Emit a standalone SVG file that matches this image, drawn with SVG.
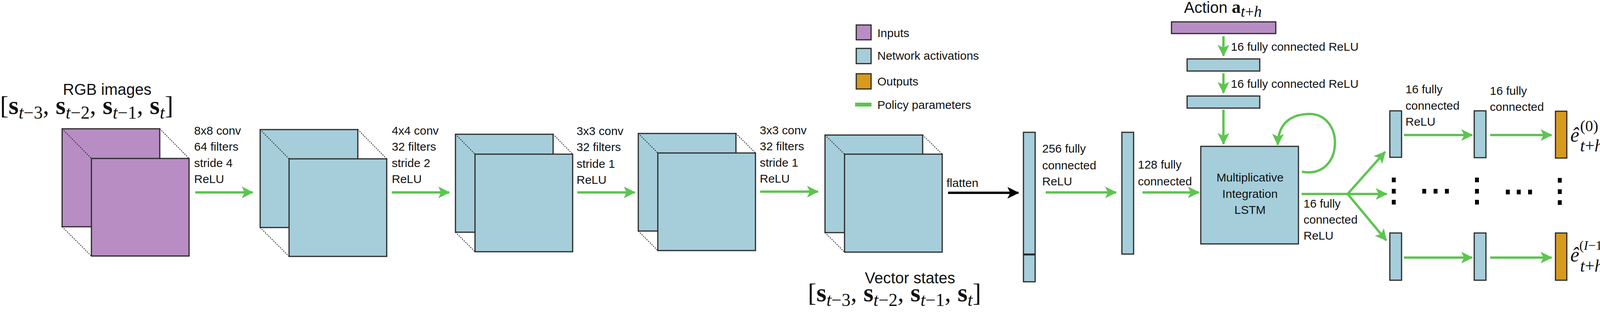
<svg xmlns="http://www.w3.org/2000/svg" width="4168" height="802" viewBox="0 0 4168 802">
<style>
.t{font-family:"Liberation Sans",Arial,sans-serif;font-size:30px;fill:#111}
.big{font-size:40px}
.m{font-family:"Liberation Serif","DejaVu Serif",serif;font-size:66px;fill:#111}
.e{font-family:"Liberation Serif","DejaVu Serif",serif;fill:#111}
.b{font-weight:bold}
.i{font-style:italic}
.s{font-size:46px}
.in{fill:#b88dc4;stroke:#2a2a2a;stroke-width:3}
.ac{fill:#a5ceda;stroke:#2a2a2a;stroke-width:3}
.out{fill:#d89a1b;stroke:#2a2a2a;stroke-width:3}
.dot{stroke:#222;stroke-width:2;stroke-dasharray:3 3;fill:none}
.g{stroke:#5ec451;stroke-width:6;fill:none}
.k{stroke:#000;stroke-width:6;fill:none}
</style>
<defs>
<marker id="ag" markerUnits="userSpaceOnUse" markerWidth="30" markerHeight="30" refX="28" refY="15" orient="auto"><path d="M0,0 L30,15 L0,30 L7,15 Z" fill="#5ec451"/></marker>
<marker id="ak" markerUnits="userSpaceOnUse" markerWidth="30" markerHeight="30" refX="28" refY="15" orient="auto"><path d="M0,0 L30,15 L0,30 L7,15 Z" fill="#000"/></marker>
</defs>

<g id="legend">
<rect class="in" x="2192" y="64" width="38" height="38"/><text class="t" x="2246" y="95">Inputs</text>
<rect class="ac" x="2192" y="124" width="38" height="39"/><text class="t" x="2246" y="153">Network activations</text>
<rect class="out" x="2192" y="189" width="38" height="39"/><text class="t" x="2246" y="219">Outputs</text>
<line x1="2189" y1="268" x2="2231" y2="268" stroke="#5ec451" stroke-width="10"/><text class="t" x="2246" y="279">Policy parameters</text>
</g>

<g id="rgb">
<text class="t big" x="161" y="243">RGB images</text>
<text class="m" x="0" y="292">[<tspan class="b">s</tspan><tspan class="i s" dy="12">t</tspan><tspan class="s">−3</tspan><tspan dy="-12">, </tspan><tspan class="b">s</tspan><tspan class="i s" dy="12">t</tspan><tspan class="s">−2</tspan><tspan dy="-12">, </tspan><tspan class="b">s</tspan><tspan class="i s" dy="12">t</tspan><tspan class="s">−1</tspan><tspan dy="-12">, </tspan><tspan class="b">s</tspan><tspan class="i s" dy="12">t</tspan><tspan dy="-12">]</tspan></text>
<rect class="in" x="159" y="330" width="250" height="251"/>
<rect class="in" x="234" y="406" width="250" height="250"/>
<path class="dot" d="M159,330 L234,406 M409,330 L484,406 M159,581 L234,656"/>
</g>
<g id="conv1">
<rect class="ac" x="666" y="332" width="250" height="251"/>
<rect class="ac" x="740" y="407" width="250" height="250"/>
<path class="dot" d="M666,332 L740,407 M916,332 L990,407 M666,583 L740,657"/>
</g>
<g id="conv2">
<rect class="ac" x="1166" y="344" width="250" height="251"/>
<rect class="ac" x="1216" y="395" width="250" height="250"/>
<path class="dot" d="M1166,344 L1216,395 M1416,344 L1466,395 M1166,595 L1216,645"/>
</g>
<g id="conv3">
<rect class="ac" x="1634" y="342" width="250" height="250"/>
<rect class="ac" x="1684" y="392" width="250" height="250"/>
<path class="dot" d="M1634,342 L1684,392 M1884,342 L1934,392 M1634,592 L1684,642"/>
</g>
<g id="conv4">
<rect class="ac" x="2112" y="346" width="250" height="250"/>
<rect class="ac" x="2162" y="395" width="250" height="251"/>
<path class="dot" d="M2112,346 L2162,395 M2362,346 L2412,395 M2112,596 L2162,646"/>
</g>

<g id="fc256">
<rect class="ac" x="2620" y="339" width="30" height="312"/>
<rect class="ac" x="2620" y="653" width="30" height="69"/>
</g>
<g id="vector">
<text class="t big" x="2214" y="726">Vector states</text>
<text class="m" x="2068" y="772">[<tspan class="b">s</tspan><tspan class="i s" dy="12">t</tspan><tspan class="s">−3</tspan><tspan dy="-12">, </tspan><tspan class="b">s</tspan><tspan class="i s" dy="12">t</tspan><tspan class="s">−2</tspan><tspan dy="-12">, </tspan><tspan class="b">s</tspan><tspan class="i s" dy="12">t</tspan><tspan class="s">−1</tspan><tspan dy="-12">, </tspan><tspan class="b">s</tspan><tspan class="i s" dy="12">t</tspan><tspan dy="-12">]</tspan></text>
</g>
<g id="fc128"><rect class="ac" x="2872" y="339" width="30" height="312"/></g>
<g id="lstm">
<rect class="ac" x="3074" y="375" width="250" height="250"/>
<text class="t" x="3200" y="465" text-anchor="middle">Multiplicative</text>
<text class="t" x="3200" y="507" text-anchor="middle">Integration</text>
<text class="t" x="3200" y="548" text-anchor="middle">LSTM</text>
</g>
<g id="action">
<text class="t big" x="3031" y="33">Action <tspan class="b" font-family="Liberation Serif,serif" font-size="46">a</tspan><tspan class="i" font-family="Liberation Serif,serif" font-size="40" dy="10">t</tspan><tspan font-family="Liberation Serif,serif" font-size="40">+</tspan><tspan class="i" font-family="Liberation Serif,serif" font-size="40">h</tspan></text>
<rect class="in" x="2999" y="56" width="267" height="30"/>
</g>
<g id="act1"><rect class="ac" x="3039" y="151" width="186" height="31"/></g>
<g id="act2"><rect class="ac" x="3039" y="246" width="186" height="31"/></g>

<g id="heads">
<rect class="ac" x="3558" y="284" width="30" height="119"/>
<rect class="ac" x="3774" y="284" width="30" height="120"/>
<rect class="out" x="3982" y="285" width="29" height="120"/>
<rect class="ac" x="3558" y="597" width="30" height="121"/>
<rect class="ac" x="3774" y="597" width="30" height="121"/>
<rect class="out" x="3982" y="597" width="29" height="121"/>
<g fill="#000">
<rect x="3563" y="455" width="10" height="12"/><rect x="3563" y="484" width="10" height="12"/><rect x="3563" y="512" width="10" height="12"/>
<rect x="3776" y="455" width="10" height="12"/><rect x="3776" y="484" width="10" height="12"/><rect x="3776" y="512" width="10" height="12"/>
<rect x="3988" y="456" width="10" height="12"/><rect x="3988" y="485" width="10" height="12"/><rect x="3988" y="513" width="10" height="12"/>
<rect x="3641" y="484" width="10" height="12"/><rect x="3670" y="484" width="10" height="12"/><rect x="3699" y="484" width="10" height="12"/>
<rect x="3855" y="486" width="10" height="12"/><rect x="3883" y="486" width="10" height="12"/><rect x="3912" y="486" width="10" height="12"/>
</g>
<text class="e i" x="4020" y="363" font-size="52">ê</text>
<text class="e" x="4045" y="336" font-size="40">(0)</text>
<text class="e" x="4045" y="388" font-size="44"><tspan class="i">t</tspan>+<tspan class="i">h</tspan></text>
<text class="e i" x="4020" y="670" font-size="52">ê</text>
<text class="e" x="4043" y="640" font-size="34">(<tspan class="i">I</tspan>−1)</text>
<text class="e" x="4045" y="696" font-size="44"><tspan class="i">t</tspan>+<tspan class="i">h</tspan></text>
</g>

<g id="labels">
<text class="t" x="497" y="345">8x8 conv</text><text class="t" x="497" y="386">64 filters</text><text class="t" x="497" y="428">stride 4</text><text class="t" x="497" y="469">ReLU</text>
<text class="t" x="1003" y="345">4x4 conv</text><text class="t" x="1003" y="386">32 filters</text><text class="t" x="1003" y="428">stride 2</text><text class="t" x="1003" y="469">ReLU</text>
<text class="t" x="1476" y="346">3x3 conv</text><text class="t" x="1476" y="387">32 filters</text><text class="t" x="1476" y="430">stride 1</text><text class="t" x="1476" y="471">ReLU</text>
<text class="t" x="1945" y="344">3x3 conv</text><text class="t" x="1945" y="385">32 filters</text><text class="t" x="1945" y="427">stride 1</text><text class="t" x="1945" y="468">ReLU</text>
<text class="t" x="2423" y="479">flatten</text>
<text class="t" x="2668" y="391">256 fully</text><text class="t" x="2668" y="434">connected</text><text class="t" x="2668" y="475">ReLU</text>
<text class="t" x="2913" y="432">128 fully</text><text class="t" x="2913" y="475">connected</text>
<text class="t" x="3151" y="130">16 fully connected ReLU</text>
<text class="t" x="3151" y="225">16 fully connected ReLU</text>
<text class="t" x="3337" y="532">16 fully</text><text class="t" x="3337" y="573">connected</text><text class="t" x="3337" y="614">ReLU</text>
<text class="t" x="3598" y="239">16 fully</text><text class="t" x="3598" y="281">connected</text><text class="t" x="3598" y="322">ReLU</text>
<text class="t" x="3814" y="243">16 fully</text><text class="t" x="3814" y="284">connected</text>
</g>

<g id="connectors">
<line class="g" x1="500" y1="493" x2="647" y2="493" marker-end="url(#ag)"/>
<line class="g" x1="1003" y1="493" x2="1150" y2="493" marker-end="url(#ag)"/>
<line class="g" x1="1478" y1="493" x2="1625" y2="493" marker-end="url(#ag)"/>
<line class="g" x1="1946" y1="491" x2="2094" y2="491" marker-end="url(#ag)"/>
<line class="k" x1="2427" y1="494" x2="2607" y2="494" marker-end="url(#ak)"/>
<line class="g" x1="2677" y1="493" x2="2857" y2="493" marker-end="url(#ag)"/>
<line class="g" x1="2925" y1="493" x2="3069" y2="493" marker-end="url(#ag)"/>
<line class="g" x1="3132" y1="93" x2="3132" y2="143" marker-end="url(#ag)"/>
<line class="g" x1="3132" y1="188" x2="3132" y2="238" marker-end="url(#ag)"/>
<line class="g" x1="3132" y1="281" x2="3132" y2="369" marker-end="url(#ag)"/>
<path class="g" d="M3333,440 C3440,460 3445,290 3350,292 C3290,294 3272,330 3271,371" marker-end="url(#ag)"/>
<line class="g" x1="3332" y1="497" x2="3550" y2="497" marker-end="url(#ag)"/>
<line class="g" x1="3450" y1="497" x2="3546" y2="389" marker-end="url(#ag)"/>
<line class="g" x1="3450" y1="497" x2="3549" y2="616" marker-end="url(#ag)"/>
<line class="g" x1="3594" y1="346" x2="3769" y2="346" marker-end="url(#ag)"/>
<line class="g" x1="3815" y1="346" x2="3972" y2="346" marker-end="url(#ag)"/>
<line class="g" x1="3594" y1="660" x2="3769" y2="660" marker-end="url(#ag)"/>
<line class="g" x1="3815" y1="660" x2="3972" y2="660" marker-end="url(#ag)"/>
</g>
</svg>
